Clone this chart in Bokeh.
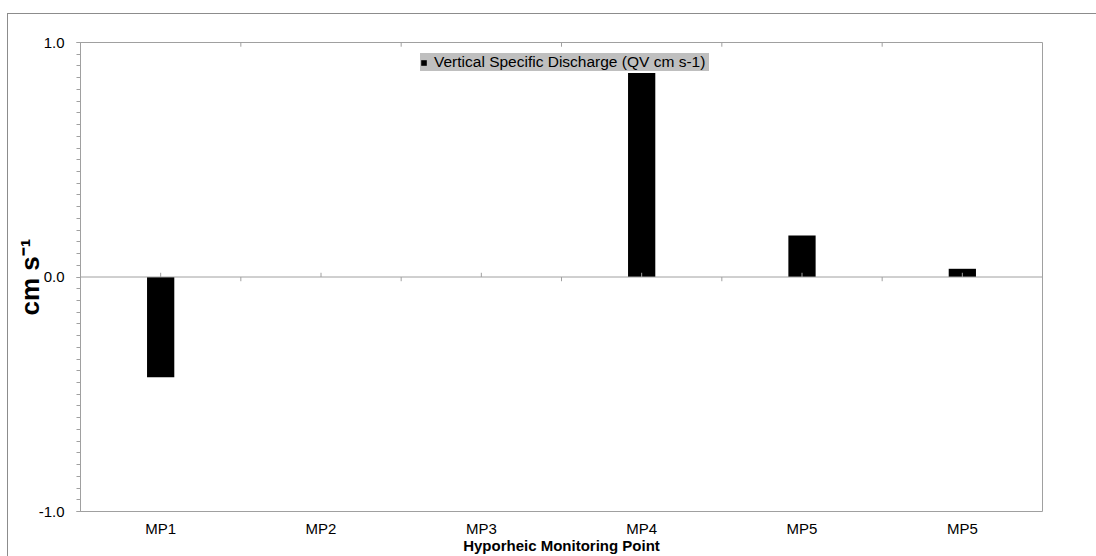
from bokeh.plotting import figure
from bokeh.models import (Range1d, FixedTicker, PrintfTickFormatter, Span, Legend,
                          LegendItem, ColumnDataSource)
from bokeh.embed import file_html
from bokeh.resources import INLINE

# ---- data ----
categories = ["MP1", "MP2", "MP3", "MP4", "MP5", "MP5"]
discharge = [-0.427, 0.0, 0.0, 0.870, 0.177, 0.035]
y_ticks = [-1.0, 0.0, 1.0]
series_name = "Vertical Specific Discharge (QV cm s-1)"
y_title = "cm s\u207b\u00b9"
x_title = "Hyporheic Monitoring Point"

# ---- styles ----
FONT = "Liberation Sans"
GRID_GREY = "#a0a0a0"
TICK_LEN = 0.018   # data units (~4px)
BAR_WIDTH = 0.17

positions = list(range(1, len(categories) + 1))
boundaries = [p_ - 0.5 for p_ in positions] + [positions[-1] + 0.5]

p = figure(width=1096, height=556, output_backend="svg", toolbar_location=None,
           x_range=Range1d(0.5, len(categories) + 0.5), y_range=Range1d(y_ticks[0], y_ticks[-1]),
           min_border_left=80, min_border_right=54, min_border_top=42, min_border_bottom=45)

p.background_fill_color = "white"
p.border_fill_color = None
p.outline_line_color = GRID_GREY
p.outline_line_width = 1
p.xgrid.visible = False
p.ygrid.visible = False

# outer chart-area border (top and left edges visible, the rest runs off the page)
p.styles = {
    "background": ("linear-gradient(#8c8c8c, #8c8c8c) 7px 13px / 100% 1px no-repeat, "
                   "linear-gradient(#8c8c8c, #8c8c8c) 7px 13px / 1px 100% no-repeat, white"),
}

src = ColumnDataSource(dict(x=positions, top=discharge))
bars = p.vbar(x="x", top="top", bottom=0, width=BAR_WIDTH, source=src,
              fill_color="black", line_color=None)

# zero line
p.add_layout(Span(location=0, dimension="width", line_color=GRID_GREY, line_width=1))

# category-axis tick marks on the zero line / top border
p.segment(x0=positions, x1=positions, y0=[0] * len(positions), y1=[TICK_LEN] * len(positions),
          line_color=GRID_GREY, line_width=1)
p.segment(x0=boundaries, x1=boundaries, y0=[0] * len(boundaries), y1=[-TICK_LEN] * len(boundaries),
          line_color=GRID_GREY, line_width=1)
p.segment(x0=boundaries, x1=boundaries, y0=[y_ticks[-1]] * len(boundaries),
          y1=[y_ticks[-1] - TICK_LEN] * len(boundaries), line_color=GRID_GREY, line_width=1)

# x axis (labels at the bottom)
xa = p.xaxis[0]
xa.ticker = FixedTicker(ticks=positions)
xa.major_label_overrides = {pos: lab for pos, lab in zip(positions, categories)}
xa.axis_line_color = None
xa.major_tick_line_color = None
xa.minor_tick_line_color = None
xa.major_label_text_font = FONT
xa.major_label_text_font_size = "15px"
xa.major_label_text_color = "black"
xa.major_label_standoff = 2
xa.axis_label = x_title
xa.axis_label_text_font = FONT
xa.axis_label_text_font_style = "bold"
xa.axis_label_text_font_size = "15px"
xa.axis_label_text_color = "black"
xa.axis_label_standoff = -3

# y axis
ya = p.yaxis[0]
minor = [round(-1 + 0.05 * i, 2) for i in range(41)]
ya.ticker = FixedTicker(ticks=y_ticks, minor_ticks=minor)
ya.formatter = PrintfTickFormatter(format="%.1f")
ya.axis_line_color = GRID_GREY
ya.major_tick_line_color = GRID_GREY
ya.minor_tick_line_color = GRID_GREY
ya.major_tick_out = 4
ya.major_tick_in = 0
ya.minor_tick_out = 4
ya.minor_tick_in = 0
ya.major_label_text_font = FONT
ya.major_label_text_font_size = "15px"
ya.major_label_text_color = "black"
ya.major_label_standoff = 12
ya.axis_label = y_title
ya.axis_label_text_font = FONT
ya.axis_label_text_font_style = "bold"
ya.axis_label_text_font_size = "26px"
ya.axis_label_text_color = "black"
ya.axis_label_standoff = -9

# legend
legend = Legend(items=[LegendItem(label=series_name, renderers=[bars])],
                location=(340, 440), orientation="vertical",
                background_fill_color="#bfbfbf", background_fill_alpha=1.0,
                border_line_color=None, padding=3, margin=0, spacing=0,
                glyph_width=7, glyph_height=7, label_standoff=7, label_height=16,
                label_width=275,
                label_text_font=FONT, label_text_font_size="15.5px", label_text_color="black")
p.add_layout(legend)

open("out.html", "w").write(file_html(p, INLINE))
